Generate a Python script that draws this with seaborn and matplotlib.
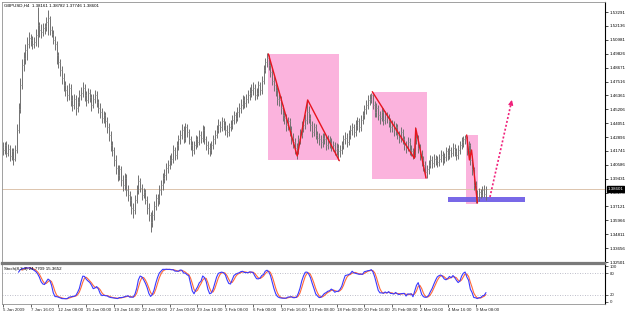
import numpy as np
import pandas as pd
import matplotlib
matplotlib.use("Agg")
import matplotlib.pyplot as plt
import matplotlib.transforms as mtrans
from matplotlib.patches import Rectangle
import seaborn as sns

sns.set_style("white")
plt.rcParams['font.family'] = ['Liberation Sans', 'DejaVu Sans']

# ---------------- data (GBPUSD H4) ----------------
first_open = 1.421
closes = [
    1.418, 1.422, 1.416, 1.419, 1.413, 1.417, 1.411, 1.418, 1.435, 1.452,
    1.472, 1.489, 1.495, 1.501, 1.506, 1.511, 1.510, 1.506, 1.508, 1.514,
    1.522, 1.518, 1.516, 1.520, 1.521, 1.525, 1.528, 1.518, 1.515, 1.510,
    1.506, 1.497, 1.491, 1.485, 1.478, 1.472, 1.468, 1.464, 1.470, 1.460,
    1.456, 1.461, 1.453, 1.458, 1.464, 1.466, 1.470, 1.464, 1.460, 1.466,
    1.462, 1.456, 1.461, 1.464, 1.458, 1.453, 1.450, 1.445, 1.447, 1.442,
    1.437, 1.431, 1.422, 1.418, 1.410, 1.403, 1.397, 1.402, 1.393, 1.389,
    1.395, 1.385, 1.381, 1.377, 1.370, 1.368, 1.377, 1.385, 1.392, 1.387,
    1.381, 1.383, 1.377, 1.370, 1.364, 1.358, 1.364, 1.372, 1.378, 1.377,
    1.385, 1.389, 1.395, 1.397, 1.403, 1.406, 1.410, 1.411, 1.418, 1.414,
    1.422, 1.427, 1.431, 1.435, 1.428, 1.437, 1.433, 1.427, 1.422, 1.418,
    1.422, 1.427, 1.425, 1.431, 1.428, 1.435, 1.427, 1.422, 1.420, 1.418,
    1.422, 1.427, 1.431, 1.435, 1.439, 1.437, 1.442, 1.439, 1.435, 1.433,
    1.437, 1.439, 1.443, 1.447, 1.445, 1.450, 1.453, 1.456, 1.460, 1.457,
    1.461, 1.464, 1.466, 1.468, 1.470, 1.464, 1.466, 1.472, 1.468, 1.476,
    1.485, 1.491, 1.495, 1.489, 1.483, 1.476, 1.472, 1.468, 1.461, 1.460,
    1.453, 1.447, 1.445, 1.439, 1.442, 1.435, 1.428, 1.425, 1.420, 1.418,
    1.427, 1.431, 1.437, 1.439, 1.443, 1.450, 1.445, 1.439, 1.433, 1.437,
    1.431, 1.428, 1.427, 1.425, 1.428, 1.427, 1.422, 1.427, 1.424, 1.421,
    1.422, 1.418, 1.420, 1.417, 1.418, 1.422, 1.427, 1.428, 1.425, 1.431,
    1.435, 1.437, 1.433, 1.439, 1.442, 1.437, 1.443, 1.447, 1.452, 1.456,
    1.460, 1.461, 1.464, 1.456, 1.450, 1.453, 1.447, 1.445, 1.450, 1.443,
    1.447, 1.445, 1.442, 1.437, 1.439, 1.435, 1.437, 1.431, 1.428, 1.433,
    1.427, 1.422, 1.420, 1.425, 1.418, 1.417, 1.414, 1.427, 1.428, 1.420,
    1.414, 1.410, 1.406, 1.400, 1.402, 1.406, 1.410, 1.407, 1.411, 1.410,
    1.408, 1.411, 1.414, 1.410, 1.412, 1.417, 1.414, 1.418, 1.416, 1.420,
    1.417, 1.414, 1.418, 1.422, 1.425, 1.427, 1.428, 1.418, 1.422, 1.410,
    1.402, 1.389, 1.381, 1.378, 1.383, 1.381, 1.385, 1.382, 1.386,
]
highs = [
    1.425, 1.425, 1.426, 1.423, 1.422, 1.420, 1.420, 1.422, 1.440, 1.457,
    1.478, 1.494, 1.500, 1.506, 1.512, 1.516, 1.515, 1.513, 1.512, 1.519,
    1.537, 1.525, 1.523, 1.524, 1.524, 1.529, 1.535, 1.530, 1.521, 1.518,
    1.513, 1.509, 1.500, 1.494, 1.488, 1.482, 1.476, 1.472, 1.474, 1.473,
    1.464, 1.465, 1.464, 1.462, 1.468, 1.471, 1.475, 1.473, 1.467, 1.470,
    1.469, 1.465, 1.465, 1.468, 1.467, 1.461, 1.457, 1.453, 1.451, 1.450,
    1.446, 1.441, 1.434, 1.426, 1.421, 1.414, 1.406, 1.406, 1.405, 1.397,
    1.399, 1.398, 1.389, 1.384, 1.380, 1.374, 1.381, 1.389, 1.397, 1.395,
    1.390, 1.387, 1.386, 1.380, 1.374, 1.367, 1.368, 1.376, 1.382, 1.382,
    1.389, 1.393, 1.399, 1.402, 1.407, 1.410, 1.414, 1.416, 1.422, 1.421,
    1.426, 1.431, 1.435, 1.440, 1.438, 1.441, 1.440, 1.436, 1.430, 1.426,
    1.426, 1.431, 1.430, 1.435, 1.434, 1.439, 1.438, 1.430, 1.426, 1.424,
    1.426, 1.431, 1.435, 1.439, 1.444, 1.442, 1.446, 1.445, 1.442, 1.439,
    1.441, 1.443, 1.447, 1.451, 1.450, 1.454, 1.457, 1.461, 1.464, 1.463,
    1.465, 1.468, 1.471, 1.473, 1.475, 1.473, 1.470, 1.476, 1.475, 1.480,
    1.489, 1.495, 1.499, 1.497, 1.492, 1.486, 1.480, 1.475, 1.471, 1.465,
    1.463, 1.456, 1.451, 1.448, 1.446, 1.445, 1.438, 1.432, 1.428, 1.424,
    1.431, 1.436, 1.442, 1.444, 1.448, 1.460, 1.455, 1.448, 1.442, 1.441,
    1.440, 1.434, 1.432, 1.431, 1.432, 1.432, 1.430, 1.431, 1.430, 1.428,
    1.426, 1.425, 1.424, 1.423, 1.422, 1.426, 1.431, 1.433, 1.432, 1.435,
    1.439, 1.441, 1.440, 1.443, 1.446, 1.445, 1.447, 1.451, 1.456, 1.460,
    1.464, 1.465, 1.466, 1.465, 1.459, 1.457, 1.456, 1.451, 1.454, 1.453,
    1.451, 1.450, 1.448, 1.445, 1.443, 1.442, 1.441, 1.440, 1.434, 1.437,
    1.436, 1.430, 1.426, 1.429, 1.428, 1.422, 1.420, 1.437, 1.433, 1.431,
    1.423, 1.418, 1.413, 1.409, 1.406, 1.410, 1.414, 1.413, 1.415, 1.414,
    1.413, 1.415, 1.418, 1.417, 1.416, 1.421, 1.420, 1.422, 1.421, 1.424,
    1.423, 1.420, 1.422, 1.426, 1.429, 1.430, 1.431, 1.430, 1.426, 1.424,
    1.413, 1.404, 1.392, 1.385, 1.387, 1.386, 1.388, 1.389, 1.388,
]
lows = [
    1.414, 1.415, 1.412, 1.413, 1.409, 1.410, 1.406, 1.409, 1.416, 1.432,
    1.449, 1.469, 1.484, 1.490, 1.493, 1.503, 1.505, 1.502, 1.503, 1.505,
    1.504, 1.512, 1.511, 1.513, 1.515, 1.517, 1.514, 1.514, 1.512, 1.506,
    1.501, 1.490, 1.486, 1.480, 1.473, 1.467, 1.463, 1.459, 1.460, 1.455,
    1.451, 1.452, 1.447, 1.450, 1.455, 1.460, 1.462, 1.459, 1.455, 1.457,
    1.458, 1.451, 1.453, 1.457, 1.454, 1.449, 1.445, 1.441, 1.441, 1.437,
    1.432, 1.426, 1.417, 1.413, 1.405, 1.398, 1.392, 1.393, 1.388, 1.384,
    1.385, 1.380, 1.376, 1.372, 1.365, 1.362, 1.365, 1.374, 1.382, 1.383,
    1.377, 1.378, 1.373, 1.365, 1.359, 1.350, 1.354, 1.360, 1.368, 1.372,
    1.373, 1.381, 1.385, 1.391, 1.393, 1.399, 1.402, 1.406, 1.407, 1.410,
    1.411, 1.418, 1.423, 1.427, 1.424, 1.425, 1.429, 1.423, 1.418, 1.413,
    1.415, 1.419, 1.421, 1.422, 1.424, 1.425, 1.423, 1.418, 1.415, 1.413,
    1.415, 1.419, 1.423, 1.428, 1.432, 1.433, 1.434, 1.435, 1.431, 1.429,
    1.430, 1.434, 1.436, 1.440, 1.441, 1.442, 1.446, 1.449, 1.452, 1.453,
    1.454, 1.457, 1.460, 1.462, 1.464, 1.460, 1.461, 1.463, 1.464, 1.465,
    1.473, 1.482, 1.487, 1.485, 1.479, 1.472, 1.467, 1.463, 1.456, 1.455,
    1.448, 1.442, 1.440, 1.434, 1.435, 1.430, 1.423, 1.420, 1.415, 1.411,
    1.415, 1.423, 1.428, 1.433, 1.436, 1.440, 1.441, 1.434, 1.429, 1.430,
    1.427, 1.424, 1.422, 1.420, 1.421, 1.423, 1.418, 1.419, 1.420, 1.417,
    1.417, 1.414, 1.414, 1.410, 1.412, 1.415, 1.419, 1.423, 1.421, 1.422,
    1.427, 1.431, 1.429, 1.430, 1.435, 1.433, 1.434, 1.440, 1.444, 1.448,
    1.452, 1.456, 1.457, 1.452, 1.446, 1.446, 1.443, 1.440, 1.442, 1.439,
    1.440, 1.441, 1.437, 1.433, 1.433, 1.430, 1.431, 1.427, 1.424, 1.425,
    1.423, 1.418, 1.416, 1.417, 1.414, 1.413, 1.411, 1.412, 1.423, 1.416,
    1.410, 1.405, 1.401, 1.396, 1.395, 1.398, 1.403, 1.403, 1.404, 1.406,
    1.404, 1.405, 1.408, 1.406, 1.407, 1.409, 1.410, 1.411, 1.412, 1.413,
    1.413, 1.410, 1.411, 1.415, 1.419, 1.421, 1.423, 1.414, 1.413, 1.406,
    1.397, 1.385, 1.374, 1.375, 1.376, 1.378, 1.379, 1.379, 1.377,
]
time_labels = ["5 Jan 2009", "7 Jan 16:00", "12 Jan 08:00", "15 Jan 00:00",
               "19 Jan 16:00", "22 Jan 08:00", "27 Jan 00:00", "29 Jan 16:00",
               "3 Feb 08:00", "6 Feb 00:00", "10 Feb 16:00", "13 Feb 08:00",
               "18 Feb 00:00", "20 Feb 16:00", "25 Feb 08:00", "2 Mar 00:00",
               "4 Mar 16:00", "9 Mar 08:00"]
label_every = 16
price_labels = ["1.53291", "1.52136", "1.50981", "1.49826", "1.48671", "1.47516",
                "1.46361", "1.45206", "1.44051", "1.42896", "1.41741", "1.40586",
                "1.39431", "1.38276", "1.37121", "1.35966", "1.34811", "1.33656",
                "1.32501"]
last_price = 1.38601
title_text = "GBPUSD,H4  1.38161 1.38782 1.37746 1.38601"
stoch_text = "Stoch(8,3,3) 24.7709 15.3652"
stoch_levels = [20, 80]
stoch_ticks = [0, 20, 80, 100]

# drawn objects (bar index, price)
rects_x = [(152.8, 193.6), (212.6, 243.9), (266.5, 273.6)]
rects_y = [(1.4099, 1.4981), (1.3941, 1.4667), (1.3733, 1.4307)]
zig1_x = [152.8, 169.4, 175.4, 193.6]
zig1_y = [1.4981, 1.4132, 1.4598, 1.4093]
zig2_x = [212.6, 236.8, 237.6, 243.5]
zig2_y = [1.4667, 1.4113, 1.4363, 1.3949]
zig3_x = [266.9, 268.5, 269.7, 273.1]
zig3_y = [1.4307, 1.4099, 1.4182, 1.3741]
support_x = (256.1, 300.4)
support_y = (1.3749, 1.3791)
arrow_x = (280.3, 292.9)
arrow_y = (1.3791, 1.4598)

# ---------------- derived frames ----------------
n = len(closes)
df = pd.DataFrame({"i": np.arange(n), "c": closes, "h": highs, "l": lows})
df["o"] = [first_open] + closes[:-1]
ll = df["l"].rolling(8).min()
hh = df["h"].rolling(8).max()
df["k"] = 100 * (df["c"] - ll).rolling(3).sum() / (hh - ll).rolling(3).sum()
df["d"] = df["k"].rolling(3).mean()

# ---------------- figure ----------------
W, H = 625, 313
FS = 3.2
fig = plt.figure(figsize=(W / 100, H / 100), dpi=100)
fig.patch.set_facecolor("white")
ax = fig.add_axes([2 / W, 1 - 263 / H, 603 / W, 261 / H])
ax2 = fig.add_axes([2 / W, 1 - 304 / H, 603 / W, 40 / H], sharex=ax)

xmin, xmax = -0.5, 346.5
ax.set_xlim(xmin, xmax)
ax.set_ylim(1.3242, 1.5413)

# rectangles (background objects)
pink = "#fbb3dd"
for (x0, x1), (y0, y1) in zip(rects_x, rects_y):
    ax.add_patch(Rectangle((x0, y0), x1 - x0, y1 - y0, facecolor=pink,
                           edgecolor="none", zorder=1))
ax.add_patch(Rectangle((support_x[0], support_y[0]), support_x[1] - support_x[0],
                       support_y[1] - support_y[0], facecolor="#7160e6",
                       edgecolor="none", alpha=0.95, zorder=1.5))

# last price line
ax.axhline(last_price, color="#dcc4ad", lw=0.7, zorder=1.2)

# OHLC bars
bar_col = "#707070"
ax.vlines(df["i"], df["l"], df["h"], color=bar_col, lw=0.7, zorder=3)
ax.hlines(df["o"], df["i"] - 0.5, df["i"], color="#9a9a9a", lw=0.45, zorder=3)
ax.hlines(df["c"], df["i"], df["i"] + 0.5, color="#9a9a9a", lw=0.45, zorder=3)

# zigzag trend lines
for zx, zy in [(zig1_x, zig1_y), (zig2_x, zig2_y), (zig3_x, zig3_y)]:
    ax.plot(zx, zy, color="#e8141e", lw=1.0, zorder=4)

# dotted arrow
ax.plot(arrow_x, arrow_y, color="#f0207a", lw=1.2, ls=(0, (1.2, 1.2)), zorder=4)
ax.annotate("", xy=(arrow_x[1], arrow_y[1]),
            xytext=(arrow_x[1] - 0.6, arrow_y[1] - 0.004),
            arrowprops=dict(arrowstyle="-|>", color="#f0207a", lw=0.8,
                            mutation_scale=7), zorder=4)

# title
ax.text(0.004, 0.993, title_text, transform=ax.transAxes, ha="left", va="top",
        fontsize=FS, color="black")

# price axis
ax.yaxis.tick_right()
ax.set_yticks([float(p) for p in price_labels])
ax.set_yticklabels(price_labels)
ax.tick_params(axis="y", right=True, length=2, width=0.5, pad=1.5, labelsize=FS,
               colors="black")
ax.tick_params(axis="x", bottom=False, labelbottom=False)
trans = mtrans.blended_transform_factory(ax.transAxes, ax.transData)
ax.text(1.0045, last_price, f"{last_price:.5f}", transform=trans, ha="left",
        va="center", fontsize=FS, color="white",
        bbox=dict(boxstyle="square,pad=0.2", facecolor="black", edgecolor="black"),
        zorder=10, clip_on=False)

for s in ["left", "top"]:
    ax.spines[s].set_color("#909090")
    ax.spines[s].set_linewidth(0.6)
ax.spines["right"].set_color("black")
ax.spines["right"].set_linewidth(0.8)
ax.spines["bottom"].set_color("#7a7a7a")
ax.spines["bottom"].set_linewidth(1.6)

# ---------------- stochastic ----------------
ax2.set_ylim(-5.7, 105.7)
for lv in stoch_levels:
    ax2.axhline(lv, color="#a8a8b8", lw=0.6, ls=(0, (1, 2)), zorder=1)
sns.lineplot(data=df, x="i", y="k", ax=ax2, color="#3a3aff", lw=0.8, zorder=3)
sns.lineplot(data=df, x="i", y="d", ax=ax2, color="#ff6a3a", lw=0.8, zorder=2)
ax2.set_xlabel("")
ax2.set_ylabel("")
ax2.text(0.004, 0.93, stoch_text, transform=ax2.transAxes, ha="left", va="top",
         fontsize=FS, color="black")
ax2.yaxis.tick_right()
ax2.set_yticks(stoch_ticks)
ax2.set_yticklabels([str(t) for t in stoch_ticks])
ax2.tick_params(axis="y", right=True, length=2, width=0.5, pad=1.5, labelsize=FS)
xt = [k * label_every for k in range(len(time_labels))]
ax2.set_xticks(xt)
ax2.set_xticklabels(time_labels, ha="left")
ax2.tick_params(axis="x", bottom=True, length=2, width=0.5, pad=1.0, labelsize=FS)
ax2.set_xlim(xmin, xmax)
for s in ["left", "bottom"]:
    ax2.spines[s].set_color("#909090")
    ax2.spines[s].set_linewidth(0.6)
ax2.spines["right"].set_color("black")
ax2.spines["right"].set_linewidth(0.8)
ax2.spines["top"].set_color("#7a7a7a")
ax2.spines["top"].set_linewidth(1.6)

fig.savefig("out.png", dpi=100, facecolor="white")
